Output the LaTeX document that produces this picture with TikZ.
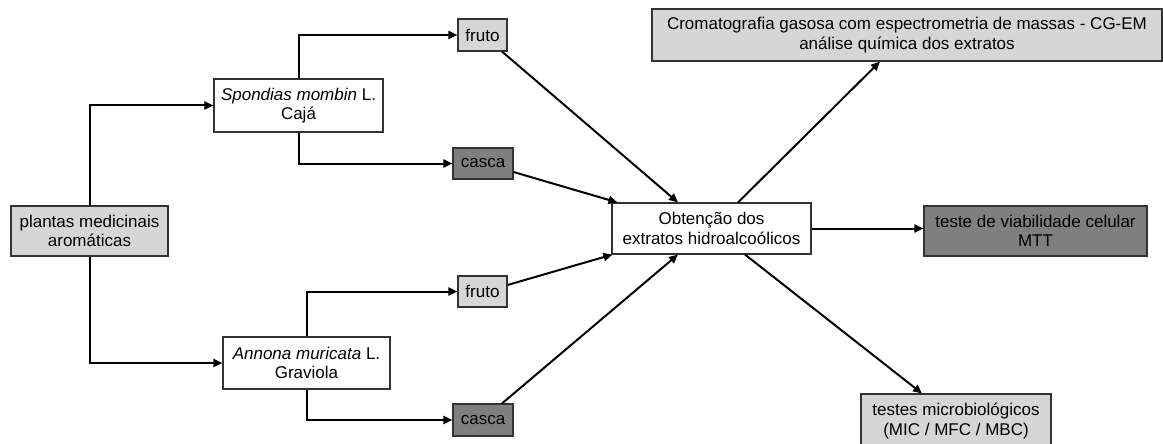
\documentclass[tikz,border=0pt]{standalone}
\usepackage{fontspec}
\setmainfont{Liberation Sans}
\usetikzlibrary{arrows.meta,calc}
\definecolor{lightbox}{HTML}{D6D6D6}
\definecolor{darkbox}{HTML}{7F7F7F}
\definecolor{boxline}{HTML}{333333}
\begin{document}
\begin{tikzpicture}[x=1pt,y=-1pt,
  box/.style={draw=boxline,line width=1.1pt,rectangle,inner sep=0pt,align=center,
    font=\fontsize{17}{19.5}\selectfont},
  lightfill/.style={box,fill=lightbox},
  darkfill/.style={box,fill=darkbox},
  whitefill/.style={box,fill=white},
  arr/.style={line width=2pt,-{Triangle[length=9pt,width=8pt]}},
  elbow/.style={arr}
]
\useasboundingbox (0,0) rectangle (1163,444);
\fill[white] (0,0) rectangle (1163,444);

\node[lightfill,minimum width=157pt,minimum height=50pt] (plantas) at (89.5,231) {plantas medicinais\\aromáticas};
\node[whitefill,minimum width=169pt,minimum height=53pt] (spondias) at (298.5,105.5) {\textit{Spondias mombin} L.\\Cajá};
\node[whitefill,minimum width=167pt,minimum height=52pt] (annona) at (306.5,363) {\textit{Annona muricata} L.\\Graviola};
\node[lightfill,minimum width=49pt,minimum height=32pt] (fruto1) at (482.5,35) {fruto};
\node[darkfill,minimum width=60pt,minimum height=31pt] (casca1) at (483,163.5) {casca};
\node[lightfill,minimum width=49pt,minimum height=31pt] (fruto2) at (482.5,291.5) {fruto};
\node[darkfill,minimum width=60pt,minimum height=32pt] (casca2) at (483,420) {casca};
\node[whitefill,minimum width=199pt,minimum height=51pt] (obt) at (711.5,228.5) {Obtenção dos\\extratos hidroalcoólicos};
\node[lightfill,minimum width=510pt,minimum height=52pt] (cg) at (907,35) {Cromatografia gasosa com espectrometria de massas - CG-EM\\análise química dos extratos};
\node[darkfill,minimum width=223pt,minimum height=50pt] (mtt) at (1035.5,231) {teste de viabilidade celular\\MTT};
\node[lightfill,minimum width=190pt,minimum height=54pt] (micro) at (956,421) {testes microbiológicos\\(MIC / MFC / MBC)};

% left tree
\draw[elbow] (plantas.north) |- (spondias.west);
\draw[elbow] (plantas.south) |- (annona.west);
\draw[elbow] (spondias.north) |- (fruto1.west);
\draw[elbow] (spondias.south) |- (casca1.west);
\draw[elbow] (annona.north) |- (fruto2.west);
\draw[elbow] (annona.south) |- (casca2.west);

% into extraction
\draw[arr] ([xshift=19.5pt]fruto1.south) -- ([xshift=-33.5pt]obt.north);
\draw[arr] ([yshift=-8.5pt]casca1.east) -- ([xshift=6pt]obt.north west);
\draw[arr] ([yshift=6.5pt]fruto2.east) -- ([xshift=1pt]obt.south west);
\draw[arr] ([xshift=19pt]casca2.north) -- ([xshift=-33.5pt]obt.south);

% out of extraction
\draw[arr] ([xshift=26.5pt]obt.north) -- ([xshift=-27pt]cg.south);
\draw[arr] (obt.east) -- (obt.east -| mtt.west);
\draw[arr] ([xshift=33.5pt]obt.south) -- ([xshift=-34pt]micro.north);
\end{tikzpicture}
\end{document}
